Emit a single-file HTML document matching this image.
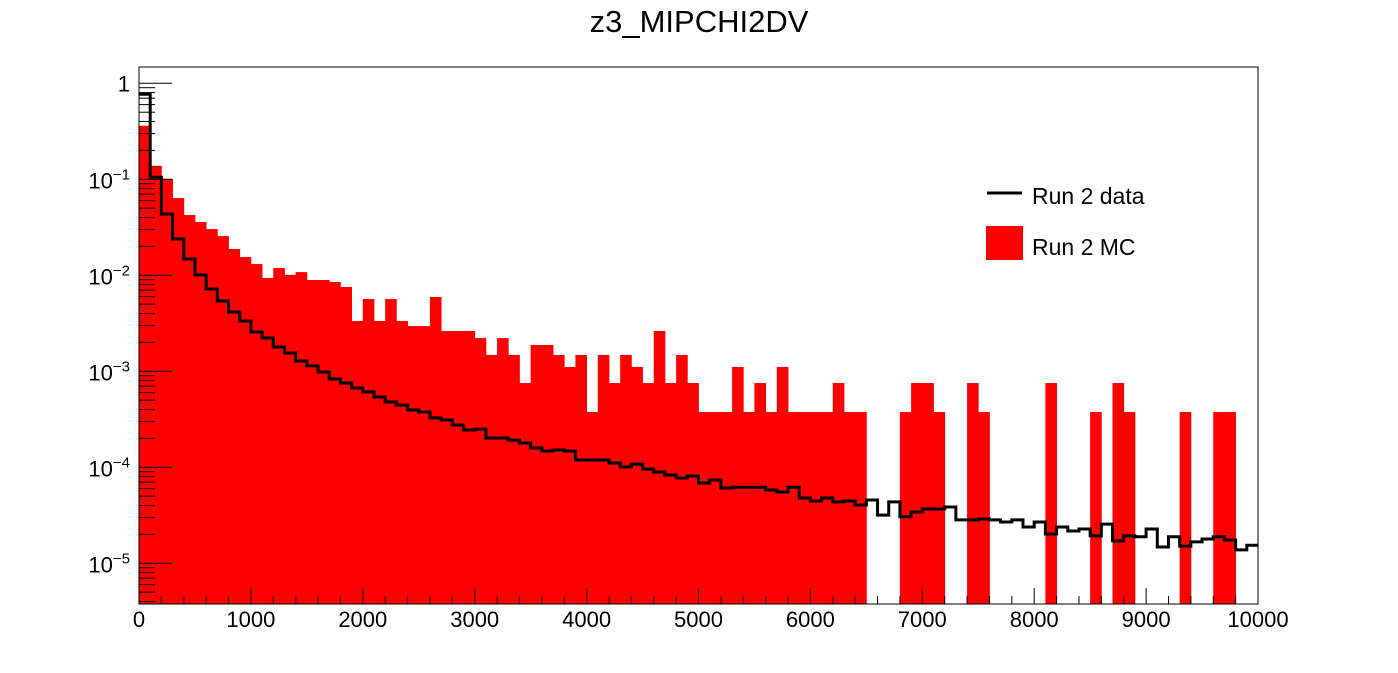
<!DOCTYPE html>
<html><head><meta charset="utf-8">
<style>
html,body{margin:0;padding:0;background:#fff;}
svg{display:block;font-family:"Liberation Sans",sans-serif;}
</style></head>
<body>
<svg id="chart" width="1398" height="673" viewBox="0 0 1398 673" xmlns="http://www.w3.org/2000/svg">
<text x="699" y="32" font-size="31" text-anchor="middle">z3_MIPCHI2DV</text>
<g id="mc"></g>
<g id="data"></g>
<g id="axes"></g>
<rect x="139" y="67" width="1119" height="537" fill="none" stroke="#000" stroke-width="1"/>
<g>
<line x1="987" y1="193" x2="1022" y2="193" stroke="#000" stroke-width="3"/>
<text x="1032" y="204" font-size="23">Run 2 data</text>
<rect x="986" y="226" width="37" height="34" fill="#ff0000"/>
<text x="1032" y="255" font-size="23">Run 2 MC</text>
</g>
</svg>
<script>
const binEdges = [0, 10000];
const nBins = 100;
const xTickLabels = ["0","1000","2000","3000","4000","5000","6000","7000","8000","9000","10000"];
const yDecades = [0, -1, -2, -3, -4, -5];
const mcValues = [0.361,0.138,0.101,0.0638,0.0425,0.0359,0.0303,0.0256,0.0188,0.0155,
0.0131,0.00938,0.0119,0.0101,0.0108,0.00893,0.00893,0.00851,0.00755,0.00334,
0.00566,0.00334,0.00566,0.00334,0.00296,0.00296,0.00594,0.00263,0.00263,0.00263,
0.00222,0.00148,0.00222,0.00148,0.000755,0.00188,0.00188,0.00148,0.00111,0.00148,
0.000377,0.00148,0.000755,0.00148,0.00111,0.000755,0.00263,0.000755,0.00148,0.000755,
0.000377,0.000377,0.000377,0.00111,0.000377,0.000755,0.000377,0.00111,0.000377,0.000377,
0.000377,0.000377,0.000755,0.000377,0.000377,0,0,0,0.000377,0.000755,
0.000755,0.000377,0,0,0.000755,0.000377,0,0,0,0,
0,0.000755,0,0,0,0.000377,0,0.000755,0.000377,0,
0,0,0,0.000377,0,0,0.000377,0.000377,0,0];
const dataValues = [0.768,0.105,0.0435,0.0239,0.0148,0.0101,0.0072,0.0054,0.00415,0.00334,
0.00257,0.00222,0.00179,0.00155,0.00128,0.00114,0.000984,0.000832,0.000755,0.00067,
0.00061,0.00054,0.000479,0.000446,0.000395,0.000377,0.000327,0.000311,0.000276,0.000245,
0.00025,0.000202,0.000202,0.000192,0.000179,0.000159,0.000148,0.000152,0.000148,0.000119,
0.000119,0.000119,0.000111,0.000101,0.000108,0.000096,0.0000893,0.0000832,0.0000774,0.0000812,
0.0000686,0.0000738,0.0000608,0.000062,0.000062,0.000062,0.0000581,0.0000553,0.000062,0.0000479,
0.0000446,0.0000479,0.0000436,0.0000446,0.0000405,0.0000457,0.0000318,0.0000436,0.0000305,0.0000342,
0.0000368,0.0000368,0.0000386,0.0000283,0.0000283,0.0000289,0.0000283,0.0000269,0.0000283,0.0000239,
0.0000269,0.0000202,0.0000239,0.0000217,0.0000228,0.0000193,0.0000256,0.0000171,0.0000193,0.0000189,
0.0000228,0.0000148,0.0000189,0.0000151,0.0000167,0.0000179,0.0000189,0.0000175,0.0000138,0.0000154];

const NS = "http://www.w3.org/2000/svg";
const X0 = 139, X1 = 1258, Y0 = 604, Y1 = 67;
const yOne = 83.3, pxPerDec = 96;
const logMin = -(Y0 - yOne) / pxPerDec;
function xs(v){ return X0 + (v - binEdges[0]) / (binEdges[1] - binEdges[0]) * (X1 - X0); }
function ys(v){ if (v <= 0) return Y0; const y = yOne - Math.log10(v) * pxPerDec; return Math.max(Y1, Math.min(Y0, y)); }
const bw = (binEdges[1] - binEdges[0]) / nBins;

const mcG = document.getElementById('mc');
mcValues.forEach((v, i) => {
  if (v <= 0) return;
  const r = document.createElementNS(NS, 'rect');
  const xa = xs(binEdges[0] + i * bw), xb = xs(binEdges[0] + (i + 1) * bw);
  const y = ys(v);
  r.setAttribute('x', xa); r.setAttribute('width', xb - xa + 0.4);
  r.setAttribute('y', y); r.setAttribute('height', Y0 - y);
  r.setAttribute('fill', '#ff0000');
  
  
  mcG.appendChild(r);
});

const dG = document.getElementById('data');
let d = '';
dataValues.forEach((v, i) => {
  const xa = xs(binEdges[0] + i * bw), xb = xs(binEdges[0] + (i + 1) * bw);
  const y = ys(v);
  d += (i === 0 ? 'M' : 'L') + xa + ' ' + y + ' L' + xb + ' ' + y + ' ';
});
const p = document.createElementNS(NS, 'path');
p.setAttribute('d', d);
p.setAttribute('fill', 'none'); p.setAttribute('stroke', '#000'); p.setAttribute('stroke-width', '3');


dG.appendChild(p);

const ax = document.getElementById('axes');
function line(x1, y1, x2, y2, name){
  const l = document.createElementNS(NS, 'line');
  l.setAttribute('x1', x1); l.setAttribute('y1', y1); l.setAttribute('x2', x2); l.setAttribute('y2', y2);
  l.setAttribute('stroke', '#000'); l.setAttribute('stroke-width', '1');
  
  
  ax.appendChild(l);
}
for (let k = 0; k <= 50; k++) {
  const v = binEdges[0] + k * 200;
  const x = xs(v);
  const major = k % 5 === 0;
  line(x, Y0, x, Y0 - (major ? 16 : 8), 'x-tick');
}
xTickLabels.forEach((lab) => {
  const t = document.createElementNS(NS, 'text');
  t.setAttribute('x', xs(parseFloat(lab))); t.setAttribute('y', 627);
  t.setAttribute('font-size', '22'); t.setAttribute('text-anchor', 'middle');
  t.textContent = lab;
  
  
  ax.appendChild(t);
});
for (let dcd = 0; dcd >= -6; dcd--) {
  for (let m = 1; m <= 9; m++) {
    const lv = dcd + Math.log10(m);
    if (lv < logMin || lv > 0.17) continue;
    const y = yOne - lv * pxPerDec;
    line(X0, y, X0 + (m === 1 ? 33 : 16), y, 'y-tick');
  }
}
yDecades.forEach((e) => {
  const y = yOne - e * pxPerDec;
  const t = document.createElementNS(NS, 'text');
  t.setAttribute('font-size', '22'); t.setAttribute('text-anchor', 'end');
  
  
  if (e === 0) {
    t.setAttribute('x', 130); t.setAttribute('y', y + 8);
    t.textContent = '1';
  } else {
    t.setAttribute('x', 130); t.setAttribute('y', y + 9);
    const base = document.createElementNS(NS, 'tspan');
    base.textContent = '10';
    const sup = document.createElementNS(NS, 'tspan');
    sup.setAttribute('font-size', '15'); sup.setAttribute('dy', '-9');
    sup.textContent = '\u2212' + (-e);
    t.appendChild(base); t.appendChild(sup);
  }
  ax.appendChild(t);
});
</script>
</body></html>
